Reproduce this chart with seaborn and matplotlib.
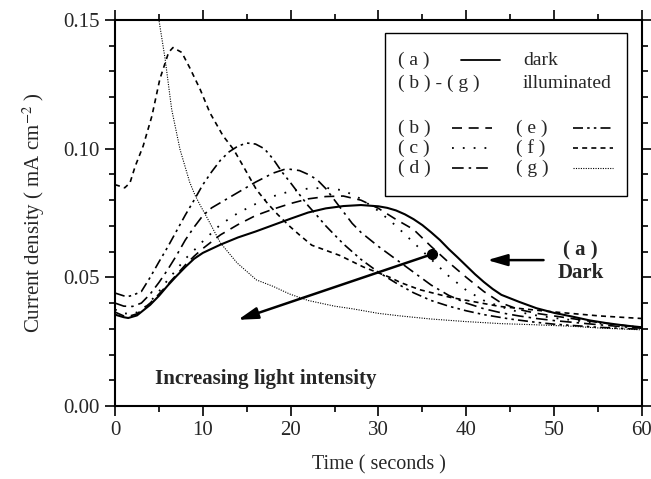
import seaborn as sns
import pandas as pd
import numpy as np
import matplotlib.pyplot as plt
from matplotlib.ticker import MultipleLocator

# (a) dark
t_a = [0, 1, 1.5, 2.5, 4, 5, 6, 7, 8, 9, 10, 12, 14, 16, 18, 20, 22, 24, 26, 28, 30, 31, 32, 33, 34,
       35, 36, 37, 38, 39, 40, 41, 42, 43, 44, 46, 48, 50, 52, 54, 56, 58, 60]
y_a = [0.0355, 0.0345, 0.0342, 0.0352, 0.0393, 0.0428, 0.0468, 0.0505, 0.054, 0.0572, 0.0595, 0.0627,
       0.0655, 0.0678, 0.0703, 0.0728, 0.0752, 0.0768, 0.0777, 0.0781, 0.0776, 0.0770, 0.0760, 0.0745,
       0.0726, 0.0703, 0.0675, 0.0645, 0.0610, 0.0578, 0.0545, 0.0512, 0.0482, 0.0455, 0.0432, 0.0405,
       0.0380, 0.0362, 0.0348, 0.0333, 0.0322, 0.0313, 0.0306]
# (b)
t_b = [0, 1, 1.5, 2.5, 4, 5, 6, 7, 8, 9, 10, 12, 14, 16, 18, 20, 22, 24, 26, 28, 30, 32, 34, 36, 38,
       40, 42, 44, 46, 48, 50, 55, 60]
y_b = [0.0365, 0.035, 0.0348, 0.0358, 0.040, 0.0435, 0.0472, 0.051, 0.0548, 0.0582, 0.0612, 0.0665,
       0.0705, 0.0740, 0.0765, 0.0787, 0.0805, 0.0814, 0.0816, 0.0800, 0.0768, 0.0725, 0.0686, 0.0620,
       0.0558, 0.0500, 0.0445, 0.0400, 0.0375, 0.0360, 0.0350, 0.0325, 0.0305]
# (c)
t_c = [0, 1, 2, 3, 4, 5, 6, 7, 8, 9, 10, 12, 14, 16, 18, 20, 22, 24, 26, 28, 30, 32, 34, 36, 38, 40,
       42, 44, 46, 48, 50, 55, 60]
y_c = [0.0375, 0.036, 0.0358, 0.037, 0.0405, 0.0445, 0.049, 0.053, 0.0572, 0.0605, 0.064, 0.0705,
       0.0750, 0.0785, 0.0815, 0.0835, 0.0845, 0.0848, 0.0838, 0.0805, 0.0758, 0.0700, 0.0635, 0.0570,
       0.0505, 0.0450, 0.0410, 0.0385, 0.0365, 0.0352, 0.0342, 0.0322, 0.0305]
# (d)
t_d = [0, 1, 2, 3, 4, 5, 6, 7, 8, 9, 10, 11, 12, 14, 16, 18, 19.5, 21, 22, 23, 24, 25, 26, 27, 28,
       30, 32, 34, 36, 38, 40, 42, 44, 46, 48, 50, 55, 60]
y_d = [0.040, 0.0388, 0.0387, 0.0400, 0.0435, 0.048, 0.053, 0.0585, 0.0645, 0.0695, 0.0740, 0.0770,
       0.0790, 0.0830, 0.0870, 0.0905, 0.0922, 0.0915, 0.0900, 0.0880, 0.0845, 0.0800, 0.0755, 0.0710,
       0.0675, 0.0620, 0.0570, 0.0520, 0.0470, 0.0430, 0.0400, 0.0378, 0.0362, 0.0350, 0.0340, 0.0332,
       0.0316, 0.0302]
# (e)
t_e = [0, 1, 1.5, 2, 3, 4, 5, 6, 7, 8, 9, 10, 11, 12, 13, 14, 15, 16, 17, 18, 19, 20, 21, 22, 23, 24,
       25, 26, 28, 30, 32, 34, 36, 38, 40, 42, 45, 48, 50, 55, 60]
y_e = [0.0439, 0.0428, 0.0426, 0.0430, 0.0445, 0.050, 0.0560, 0.0618, 0.0680, 0.0742, 0.0800, 0.0860,
       0.0910, 0.0955, 0.0988, 0.1010, 0.1022, 0.1018, 0.1000, 0.0960, 0.0910, 0.0867, 0.0822, 0.0778,
       0.0740, 0.0700, 0.0665, 0.0630, 0.0570, 0.0520, 0.0478, 0.0440, 0.0410, 0.0388, 0.0370, 0.0355,
       0.0338, 0.0325, 0.0318, 0.0306, 0.0298]
# (f)
t_f = [0, 0.3, 1.1, 1.7, 2.3, 3.2, 4.2, 5.1, 6.1, 6.6, 7.6, 8.5, 9.7, 10.8, 12.3, 13.5, 14.6, 16.1,
       17.3, 18.5, 19.9, 21, 22.4, 24, 25.6, 28.3, 31.3, 32.5, 34.7, 38.2, 43.8, 49.5, 55.2, 60]
y_f = [0.0860, 0.0857, 0.0848, 0.0867, 0.0932, 0.1010, 0.1127, 0.1270, 0.1374, 0.1393, 0.1374, 0.1315,
       0.1230, 0.1140, 0.1050, 0.0997, 0.0932, 0.0841, 0.0790, 0.0745, 0.0698, 0.0665, 0.0625, 0.0605,
       0.0585, 0.0540, 0.0500, 0.0480, 0.0452, 0.0422, 0.0387, 0.0367, 0.0350, 0.0340]
# (g)
t_g = [4.6, 5.0, 5.7, 6.45, 7.4, 8.5, 9.1, 9.7, 10.4, 12, 13.9, 16.1, 18, 19.9, 22, 25, 27, 30, 32.5,
       36, 40, 44, 47.6, 52, 55.2, 60]
y_g = [0.158, 0.150, 0.135, 0.1153, 0.0997, 0.087, 0.082, 0.078, 0.0737, 0.0634, 0.0556, 0.049, 0.0465,
       0.0435, 0.0410, 0.0388, 0.0378, 0.0360, 0.0350, 0.0338, 0.0328, 0.0320, 0.0316, 0.0310, 0.0303,
       0.0296]

curves = ['a', 'b', 'c', 'd', 'e', 'f', 'g']
times = [t_a, t_b, t_c, t_d, t_e, t_f, t_g]
values = [y_a, y_b, y_c, y_d, y_e, y_f, y_g]

df = pd.concat([pd.DataFrame({'curve': c, 'time': t, 'current': y})
                for c, t, y in zip(curves, times, values)], ignore_index=True)

styles = {
    'a': (None, 1.5),
    'b': ((0, (6, 4)), 1.2),
    'c': ((0, (1, 5)), 1.3),
    'd': ((0, (7, 3, 1.5, 3)), 1.2),
    'e': ((0, (6, 2.5, 1.5, 2.5, 1.5, 2.5)), 1.2),
    'f': ((0, (3, 2.5)), 1.2),
    'g': ((0, (1, 1.2)), 0.8),
}

sns.set_style('ticks')
plt.rcParams['font.family'] = ['Liberation Serif', 'DejaVu Serif']
plt.rcParams['mathtext.fontset'] = 'stix'

fig = plt.figure(figsize=(6.51, 4.79), dpi=100)
ax = fig.add_axes([0.1767, 0.1524, 0.8093, 0.8058])

for c in curves:
    ls, lw = styles[c]
    sns.lineplot(data=df[df.curve == c], x='time', y='current', ax=ax, color='black',
                 linewidth=lw, estimator=None, sort=False)
    if ls is not None:
        ax.lines[-1].set_linestyle(ls)

ax.set_xlim(0, 60)
ax.set_ylim(0, 0.15)
ax.xaxis.set_major_locator(MultipleLocator(10))
ax.xaxis.set_minor_locator(MultipleLocator(5))
ax.yaxis.set_major_locator(MultipleLocator(0.05))
ax.yaxis.set_minor_locator(MultipleLocator(0.01))
ax.yaxis.set_major_formatter(plt.FormatStrFormatter('%.2f'))
ax.tick_params(which='both', direction='out', top=True, right=True, width=1.2, color='black')
ax.tick_params(which='major', length=7, labelsize=15, pad=4)
ax.tick_params(which='minor', length=4)
for s in ax.spines.values():
    s.set_linewidth(1.5)
    s.set_color('black')

ax.set_xlabel('Time ( seconds )', fontsize=14.5, labelpad=11)
ax.set_ylabel('Current density ( mA cm$^{-2}$ )', fontsize=15, labelpad=12)

# arrows and annotations
ax.plot([36.1], [0.059], 'o', color='black', markersize=7)
ax.annotate('', xy=(14.0, 0.0335), xytext=(36.1, 0.059),
            arrowprops=dict(arrowstyle='-|>,head_length=1.2,head_width=0.35', color='black', lw=1.8,
                            shrinkA=0, shrinkB=0))
ax.annotate('', xy=(42.4, 0.0567), xytext=(48.8, 0.0567),
            arrowprops=dict(arrowstyle='-|>,head_length=1.2,head_width=0.35', color='black', lw=1.8,
                            shrinkA=0, shrinkB=0))
ax.text(53.0, 0.0605, '( a )', fontsize=15, fontweight='bold', ha='center', va='center')
ax.text(53.0, 0.0515, 'Dark', fontsize=15, fontweight='bold', ha='center', va='center')
ax.text(4.5, 0.0105, 'Increasing light intensity', fontsize=15, fontweight='bold', ha='left',
        va='center')

# legend box drawn by hand
def axf(px, py):
    return (px - 115) / 527, (406 - py) / 386

x0, y0 = axf(385, 196)
x1, y1 = axf(627, 33)
ax.add_patch(plt.Rectangle((x0, y0), x1 - x0, y1 - y0, transform=ax.transAxes, fill=False,
                           edgecolor='black', lw=1.0, zorder=5))
fs = 14
rows = [
    ('( a )', 'a', 'dark', 60),
    ('( b ) - ( g )', None, 'illuminated', 83),
]
for lab, cur, txt, py in rows:
    ax.text(*axf(398, py), lab, transform=ax.transAxes, fontsize=fs, va='center', ha='left')
    ax.text(*axf(523, py), txt, transform=ax.transAxes, fontsize=fs, va='center', ha='left')
    if cur is not None:
        (lx0, ly), (lx1, _) = axf(461, py), axf(500, py)
        ax.plot([lx0, lx1], [ly, ly], transform=ax.transAxes, color='black', lw=1.3)

grid = [('b', 'e', 128), ('c', 'f', 148), ('d', 'g', 168)]
for left, right, py in grid:
    for cur, lx, sx0, sx1 in [(left, 398, 452, 492), (right, 516, 573, 613)]:
        ax.text(*axf(lx, py), f'( {cur} )', transform=ax.transAxes, fontsize=fs, va='center', ha='left')
        ls, lw = styles[cur]
        (a0, b0), (a1, _) = axf(sx0, py), axf(sx1, py)
        ax.plot([a0, a1], [b0, b0], transform=ax.transAxes, color='black', lw=lw, linestyle=ls)

fig.savefig('out.png', dpi=100)
